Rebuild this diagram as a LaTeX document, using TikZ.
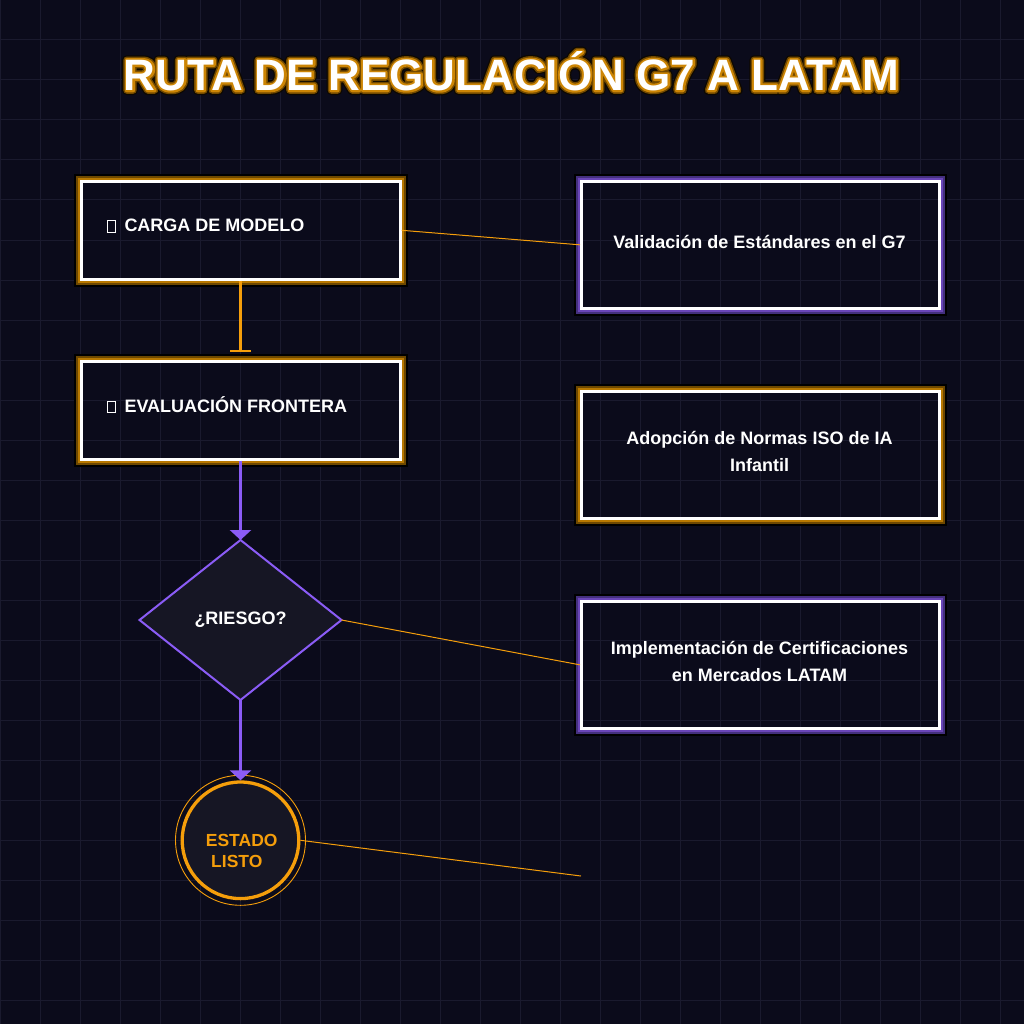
\documentclass[tikz,border=0pt]{standalone}
\usepackage{fontspec}
\setmainfont{Liberation Sans}
\usetikzlibrary{arrows.meta,shapes.geometric,calc}
\definecolor{bg}{HTML}{0B0B1B}
\definecolor{gridc}{HTML}{1A1A2E}
\definecolor{amber}{HTML}{F59E0B}
\definecolor{purp}{HTML}{8B5CF6}
\definecolor{dfill}{HTML}{161624}
\definecolor{oglowA}{HTML}{B87800}
\definecolor{oglowB}{HTML}{6E4800}
\definecolor{pglowA}{HTML}{6A45B8}
\definecolor{pglowB}{HTML}{44307E}
\newcommand\myglow[3]{%
  \draw[#2, line width=2pt] ($(#1.north west)+(-1,-1)$) rectangle ($(#1.south east)+(1,1)$);
  \draw[#3, line width=2pt] ($(#1.north west)+(-3,-3)$) rectangle ($(#1.south east)+(3,3)$);
  \draw[black, line width=2pt] ($(#1.north west)+(-5,-5)$) rectangle ($(#1.south east)+(5,5)$);}
\newcommand\tofu{{\setlength\fboxsep{0pt}\setlength\fboxrule{1pt}\fbox{\rule{0pt}{10.7pt}\hspace{7.3pt}}}}
\newcommand\titleglow[1]{%
  \rlap{\special{pdf:literal direct 0.05 0.03 0 RG 1 Tr 9.5 w 1 j 1 J}#1\special{pdf:literal direct 0 Tr 0.4 w 0 j 0 J}}%
  \rlap{\special{pdf:literal direct 0.45 0.29 0 RG 1 Tr 7 w 1 j 1 J}#1\special{pdf:literal direct 0 Tr 0.4 w 0 j 0 J}}%
  \rlap{\special{pdf:literal direct 0.80 0.52 0.02 RG 1 Tr 4 w 1 j 1 J}#1\special{pdf:literal direct 0 Tr 0.4 w 0 j 0 J}}%
  #1}
\tikzset{
  lbox/.style={draw=white, line width=3pt, minimum width=318.7pt, minimum height=97.7pt, inner sep=0pt, outer sep=1.5pt},
  rbox/.style={draw=white, line width=3pt, minimum width=358pt, minimum height=126.7pt, inner sep=0pt, outer sep=1.5pt},
  lbl/.style={text=white, font=\fontsize{18}{22}\selectfont\bfseries, inner sep=0pt},
  clbl/.style={text=amber, font=\fontsize{17.5}{22}\selectfont\bfseries, inner sep=0pt},
  thinlink/.style={amber, line width=1pt},
  flow/.style={line width=2.6pt},
}
\begin{document}
\begin{tikzpicture}[x=1pt,y=-1pt]
\useasboundingbox (0,0) rectangle (1024,1024);
\fill[bg] (0,0) rectangle (1024,1024);
\foreach \i in {0,40,...,1000} {
  \draw[gridc, line width=1pt] (\i,0) -- (\i,1024);
  \draw[gridc, line width=1pt] (0,\i) -- (1024,\i);
}
% title
\node[text=white, font=\fontsize{44}{50}\selectfont\bfseries, inner sep=0pt, anchor=base] (title) at (511.3,90.3) {\titleglow{RUTA DE REGULACIÓN G7 A LATAM}};
% left boxes
\node[lbox] (b1) at (240.9,230.3) {};
\myglow{b1}{oglowA}{oglowB}
\node[lbl, anchor=base west] (t1) at (106.7,232) {\tofu\hspace{8.3pt}CARGA DE MODELO};
\node[lbox] (b2) at (240.9,410.3) {};
\myglow{b2}{oglowA}{oglowB}
\node[lbl, anchor=base west] (t2) at (106.7,412.3) {\tofu\hspace{8.3pt}EVALUACIÓN FRONTERA};
% right boxes
\node[rbox] (bA) at (760.5,244.85) {};
\myglow{bA}{pglowA}{pglowB}
\node[lbl, anchor=base] (tA) at (759.5,248) {Validación de Estándares en el G7};
\node[rbox] (bB) at (760.5,454.85) {};
\myglow{bB}{oglowA}{oglowB}
\node[lbl, anchor=base] (tB1) at (759.5,444) {Adopción de Normas ISO de IA};
\node[lbl, anchor=base] (tB2) at (759.5,471.5) {Infantil};
\node[rbox] (bC) at (760.5,664.85) {};
\myglow{bC}{pglowA}{pglowB}
\node[lbl, anchor=base] (tC1) at (759.5,654) {Implementación de Certificaciones};
\node[lbl, anchor=base] (tC2) at (759.5,681.5) {en Mercados LATAM};
% diamond
\node[diamond, draw=purp, fill=dfill, line width=2pt, minimum width=202pt, minimum height=160pt, inner sep=0pt, outer sep=0pt, text=white, font=\fontsize{18}{22}\selectfont\bfseries] (d) at (240.5,620) {¿RIESGO?};
% circle
\node[circle, draw=amber, fill=dfill, line width=3.3pt, minimum size=116.6pt, inner sep=0pt] (c) at (240.5,840.3) {};
\draw[amber, line width=0.9pt] (c.center) circle[radius=65];
\node[clbl, anchor=base west] (cl1) at (205.7,846) {ESTADO};
\node[clbl, anchor=base west] (cl2) at (211,867.7) {LISTO};
% connectors
\draw[flow, amber, -{Bar[width=21pt, line width=1.7pt]}, shorten >=8.3pt] (b1.south -| d.center) -- (b2.north -| d.center);
\draw[flow, purp, -{Triangle[width=21pt,length=10pt]}] (b2.south -| d.center) -- (d.north);
\draw[flow, purp, -{Triangle[width=21pt,length=10pt]}] (d.south) -- (c.north);
\draw[thinlink] (b1.east) -- (bA.west);
\draw[thinlink] (d.east) -- (bC.west);
\coordinate (e4) at (581,876);
\draw[thinlink] (c.east) -- (e4);
\end{tikzpicture}
\end{document}
